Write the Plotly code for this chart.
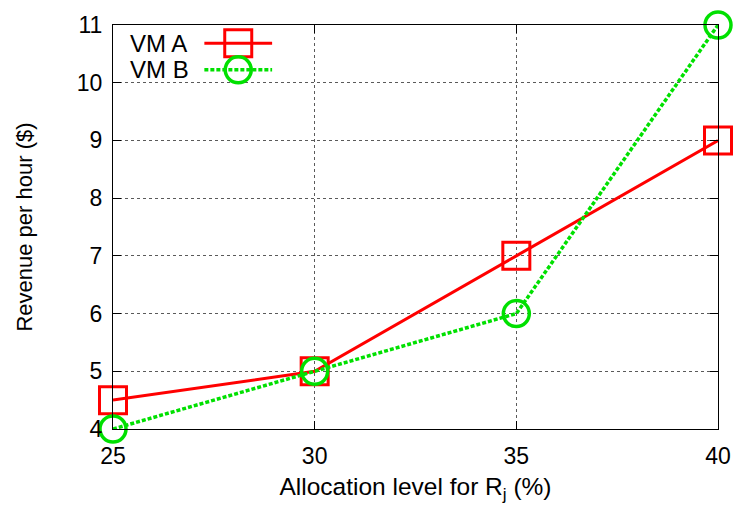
import plotly.graph_objects as go

alloc = [25, 30, 35, 40]
vm_a = [4.5, 5, 7, 9]
vm_b = [4, 5, 6, 11]
series_names = ["VM A", "VM B"]
x_ticks = [25, 30, 35, 40]
y_ticks = [4, 5, 6, 7, 8, 9, 10, 11]

RED = "#ff0000"
GREEN = "#00e000"
FONT = "Liberation Sans, Arial, sans-serif"

fig = go.Figure()
fig.add_trace(go.Scatter(
    x=alloc, y=vm_a, mode="lines+markers", name=series_names[0],
    line=dict(color=RED, width=3),
    marker=dict(symbol="square-open", size=27, color=RED, line=dict(width=3, color=RED)),
    cliponaxis=False, showlegend=False))
fig.add_trace(go.Scatter(
    x=alloc, y=vm_b, mode="lines+markers", name=series_names[1],
    line=dict(color=GREEN, width=3.5, dash="4px,2px"),
    marker=dict(symbol="circle-open", size=26, color=GREEN, line=dict(width=3.5, color=GREEN)),
    cliponaxis=False, showlegend=False))

# legend samples on an overlay axis in plot-fraction units
leg_y = [0.955, 0.889]
styles = [
    (dict(color=RED, width=3), dict(symbol="square-open", size=27, color=RED, line=dict(width=3, color=RED))),
    (dict(color=GREEN, width=3.5, dash="4px,2px"), dict(symbol="circle-open", size=26, color=GREEN, line=dict(width=3.5, color=GREEN))),
]
for i, name in enumerate(series_names):
    ln, mk = styles[i]
    fig.add_trace(go.Scatter(x=[0.151, 0.263], y=[leg_y[i]] * 2, mode="lines", line=ln,
                             xaxis="x2", yaxis="y2", showlegend=False, hoverinfo="skip"))
    fig.add_trace(go.Scatter(x=[0.207], y=[leg_y[i]], mode="markers", marker=mk,
                             xaxis="x2", yaxis="y2", showlegend=False, hoverinfo="skip", cliponaxis=False))
    fig.add_annotation(x=0.024, y=leg_y[i], xref="x2", yref="y2", text=name, showarrow=False,
                       xanchor="left", yanchor="middle", font=dict(family=FONT, size=24, color="black"))

axis_common = dict(
    showline=True, linecolor="black", linewidth=1, mirror="allticks",
    ticks="inside", ticklen=8, tickcolor="black", tickwidth=1,
    showgrid=True, gridcolor="rgb(90,90,90)", griddash="dot", gridwidth=1,
    zeroline=False, tickfont=dict(family=FONT, size=23, color="black"),
)
fig.update_layout(
    width=743, height=508,
    margin=dict(l=113, r=21, t=25, b=79),
    paper_bgcolor="white", plot_bgcolor="white",
    font=dict(family=FONT, size=23, color="black"),
    xaxis=dict(range=[25, 40], tickvals=x_ticks, ticklabelstandoff=6,
               title=dict(text="Allocation level for R<sub>j</sub> (%)", font=dict(family=FONT, size=24.5), standoff=10),
               **axis_common),
    yaxis=dict(range=[4, 11], tickvals=y_ticks, ticklabelstandoff=5,
               title=dict(text="Revenue per hour ($)", font=dict(family=FONT, size=22), standoff=38),
               **axis_common),
    xaxis2=dict(range=[0, 1], overlaying="x", visible=False, anchor="y2"),
    yaxis2=dict(range=[0, 1], overlaying="y", visible=False, anchor="x2"),
)
fig.write_html("out.html")
